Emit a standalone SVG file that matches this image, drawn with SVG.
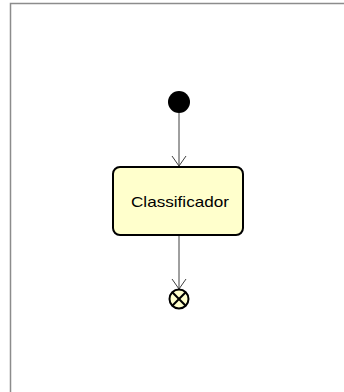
<svg xmlns="http://www.w3.org/2000/svg" width="344" height="392" viewBox="0 0 344 392">
  <defs>
    <style>
      .frame { fill: none; stroke: #8c8c8c; stroke-width: 1.5; }
      .flow { fill: none; stroke: #404040; stroke-width: 1; }
      .head { fill: none; stroke: #404040; stroke-width: 1; }
      .state { fill: #ffffcc; stroke: #000; stroke-width: 2; }
      .label { font-family: "Liberation Sans", Arial, sans-serif; font-size: 15px; fill: #000; }
    </style>
  </defs>
  <rect width="344" height="392" fill="#fff"/>
  <!-- diagram frame -->
  <path class="frame" d="M10.5 392 V3.5 H344"/>

  <g id="connectors">
    <line class="flow" x1="179" y1="113" x2="179" y2="166"/>
    <polyline class="head" points="172,156 179,166 186,156"/>
    <line class="flow" x1="179" y1="235" x2="179" y2="289"/>
    <polyline class="head" points="172,279 179,289 186,279"/>
  </g>

  <g id="initial">
    <circle cx="179" cy="102" r="11" fill="#000"/>
  </g>

  <g id="classificador">
    <rect class="state" x="113" y="167" width="130" height="68" rx="7"/>
    <text class="label" x="131" y="207" textLength="98" lengthAdjust="spacingAndGlyphs">Classificador</text>
  </g>

  <g id="final">
    <circle cx="179" cy="299" r="9.5" fill="#ffffcc" stroke="#000" stroke-width="2"/>
    <line x1="172.3" y1="292.3" x2="185.7" y2="305.7" stroke="#000" stroke-width="2"/>
    <line x1="185.7" y1="292.3" x2="172.3" y2="305.7" stroke="#000" stroke-width="2"/>
  </g>
</svg>
